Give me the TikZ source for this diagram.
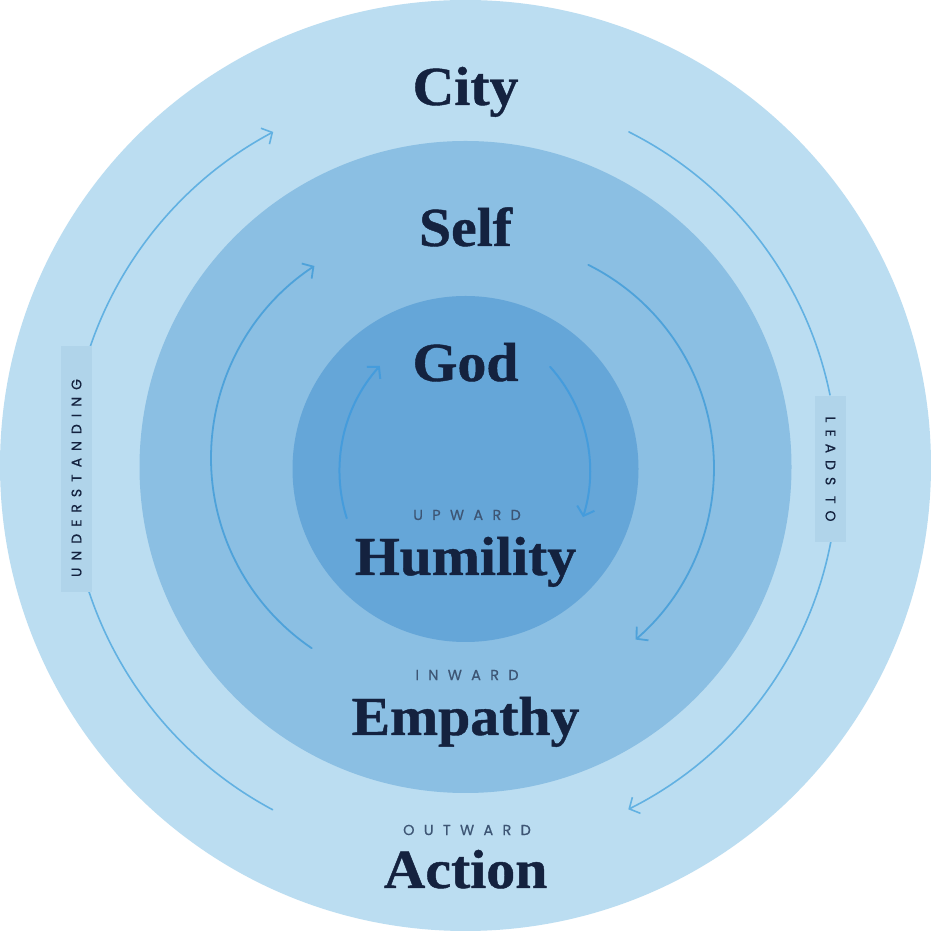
\documentclass[tikz,border=0pt]{standalone}
\usepackage{fontspec}
\setmainfont{Liberation Serif}
\newfontfamily\headfont{Liberation Serif}[FakeStretch=1.05,FakeBold=0.8]
\newfontfamily\capfont{Poppins}[LetterSpace=64,FakeBold=0.5]
\newfontfamily\sidefont{Poppins}[LetterSpace=50,FakeBold=0.5]
\usetikzlibrary{arrows.meta}
\definecolor{ringA}{HTML}{BBDDF1}
\definecolor{ringB}{HTML}{8BBFE3}
\definecolor{ringC}{HTML}{65A6D8}
\definecolor{boxc}{HTML}{B0D4EA}
\definecolor{navy}{HTML}{14223F}
\definecolor{capc}{HTML}{3D5574}
\definecolor{arrA}{HTML}{62B1E2}
\definecolor{arrB}{HTML}{4EA2DA}
\definecolor{arrC}{HTML}{459CDC}
\tikzset{
  head/.style={font=\headfont\bfseries\fontsize{55}{60}\selectfont, text=navy, inner sep=0pt, anchor=base},
  caplab/.style={font=\capfont\fontsize{14.5}{16}\selectfont, text=capc, inner sep=0pt},
  sidelab/.style={font=\sidefont\fontsize{14}{16}\selectfont, text=navy, inner sep=0pt},
  sidebox/.style={fill=boxc, draw=none, inner sep=0pt},
  flow/.style={line cap=round},
  flowarrow/.style={flow, -{Straight Barb[length=8pt,width=18pt]}},
  outerline/.style={draw=arrA, line width=1.6pt},
  midline/.style={draw=arrB, line width=1.8pt},
  innerline/.style={draw=arrC, line width=2pt}
}
\begin{document}
\begin{tikzpicture}[x=1pt,y=1pt]
\useasboundingbox (0,0) rectangle (931,931);
\fill[white] (0,0) rectangle (931,931);
% rings
\fill[ringA] (465.5,465.5) circle[radius=465.5pt];
\fill[ringB] (465.5,464) circle[radius=326pt];
\fill[ringC] (465.5,462) circle[radius=173pt];
% arc centres
\coordinate (oL) at (453.5,460);
\coordinate (oR) at (458.6,460.5);
\coordinate (mL) at (441,473);
\coordinate (mR) at (487,463);
\coordinate (iL) at (496.5,460);
\coordinate (iR) at (434,460);
% outer arcs
\draw[flow, outerline] ([shift=(241.9:384pt)]oL) arc[start angle=241.9, end angle=198.3, radius=384pt];
\draw[flowarrow, outerline] ([shift=(161.6:384pt)]oL) arc[start angle=161.6, end angle=118.0, radius=384pt];
\draw[flow, outerline] ([shift=(63.3:379pt)]oR) arc[start angle=63.3, end angle=11.5, radius=379pt];
\draw[flowarrow, outerline] ([shift=(-10.9:379pt)]oR) arc[start angle=-10.9, end angle=-63.4, radius=379pt];
% middle arcs
\draw[flowarrow, midline] ([shift=(235.8:230pt)]mL) arc[start angle=235.8, end angle=123.4, radius=230pt];
\draw[flowarrow, midline] ([shift=(63.5:227pt)]mR) arc[start angle=63.5, end angle=-49.1, radius=227pt];
% inner arcs
\draw[flowarrow, innerline] ([shift=(197.5:157pt)]iL) arc[start angle=197.5, end angle=138, radius=157pt];
\draw[flowarrow, innerline] ([shift=(41.9:156pt)]iR) arc[start angle=41.9, end angle=-17.2, radius=156pt];
% side boxes
\node[sidebox, minimum width=31pt, minimum height=246pt] (ubox) at (76.5,462) {};
\node[sidelab, rotate=90] (ulab) at ([yshift=-9pt]ubox.center) {UNDERSTANDING};
\node[sidebox, minimum width=31pt, minimum height=146pt] (lbox) at (830.5,462) {};
\node[sidelab, rotate=-90] (llab) at (lbox) {LEADS TO};
% headings
\node[head] (city) at (465.5,826) {City};
\node[head] (self) at (465.5,685) {Self};
\node[head] (god) at (465.5,550) {God};
\node[head] (hum) at (465.5,356) {Humility};
\node[head] (emp) at (465.5,196) {Empathy};
\node[head] (act) at (465.5,43) {Action};
% small labels
\node[caplab] (up) at (467,416) {UPWARD};
\node[caplab] (in) at (467,256) {INWARD};
\node[caplab] (out) at (467,101) {OUTWARD};
\end{tikzpicture}
\end{document}
